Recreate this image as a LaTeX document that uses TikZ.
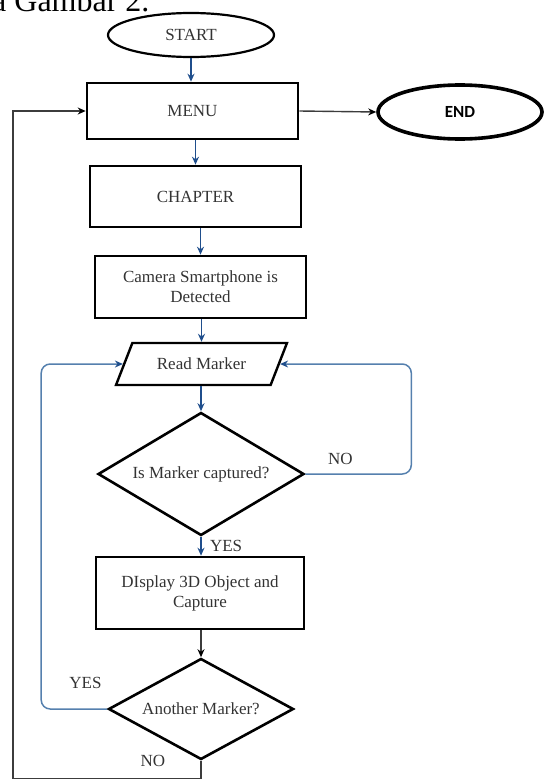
\documentclass[tikz,border=0pt]{standalone}
\usepackage{fontspec}
\setmainfont{Liberation Serif}
\newfontfamily\endfont{Carlito}
\usetikzlibrary{shapes.geometric,arrows.meta}
\definecolor{txt}{HTML}{333333}
\definecolor{arrblue}{HTML}{1F4E8C}
\definecolor{loopblue}{HTML}{5580AE}
\definecolor{kline}{HTML}{3C3C3C}
\begin{document}
\begin{tikzpicture}[x=1pt,y=-1pt,
  every node/.style={font=\fontsize{17}{20}\selectfont, text=txt},
  box/.style={draw=black, line width=2.6pt, rectangle, inner sep=0pt, align=center},
  term/.style={draw=black, line width=2.2pt, ellipse, inner sep=0pt},
  decision/.style={draw=black, line width=2.6pt, diamond, inner sep=0pt},
  barrow/.style={draw=arrblue, line width=1.5pt, -{Stealth[length=8pt,width=7pt]}},
  loopline/.style={draw=loopblue, line width=1.5pt, rounded corners=9pt, -{Stealth[length=8pt,width=7pt,color=arrblue]}},
  karrow/.style={draw=kline, line width=1.4pt, -{Stealth[length=8pt,width=7pt,color=black]}}
]
\useasboundingbox (0,0) rectangle (545,779);

% cropped caption at the top
\node[anchor=base west, inner sep=0pt, font=\fontsize{32}{36}\selectfont, text=black] (title) at (-8,12) {a Gambar 2.};

% nodes
\node[term, minimum width=166pt, minimum height=44pt] (start) at (191,35) {START};
\node[box, minimum width=211pt, minimum height=56pt] (menu) at (192.5,111) {MENU};
\node[ellipse, draw=black, line width=3.6pt, inner sep=0pt, minimum width=164pt, minimum height=54pt,
      font=\endfont\bfseries\fontsize{17}{20}\selectfont, text=black] (end) at (460,112) {END};
\node[box, minimum width=211pt, minimum height=61pt] (chap) at (195.5,196.5) {CHAPTER};
\node[box, minimum width=211pt, minimum height=62pt] (cam) at (200.5,287) {Camera Smartphone is\\Detected};
\node[trapezium, draw=black, line width=2.4pt, inner sep=0pt,
      trapezium left angle=48.6, trapezium right angle=131.4, trapezium stretches=true,
      minimum width=171pt, minimum height=42pt] (rm) at (201.5,364) {Read Marker};
\node[decision, aspect=1.675, minimum width=206pt, minimum height=123pt] (d1) at (201,474) {Is Marker captured?};
\node[box, minimum width=208pt, minimum height=72pt] (disp) at (200,593) {DIsplay 3D Object and\\Capture};
\node[decision, aspect=1.83, minimum width=185pt, minimum height=101pt] (d2) at (201,709) {Another Marker?};

% connectors
\draw[barrow] (start.south) -- (start.south |- menu.north);
\draw[karrow] (menu.east) -- (end.west);
\draw[barrow] (menu.south -| chap) -- (chap.north);
\draw[barrow] (chap.south -| cam) -- (cam.north);
\draw[barrow] (cam.south -| rm.center) -- (rm.north -| rm.center);
\draw[barrow] (rm.south -| d1) -- (d1.north);
\draw[barrow] (d1.south) -- node[midway, anchor=west, xshift=5pt] {YES} (d1.south |- disp.north);
\draw[loopline] (d1.east) -- node[pos=0.33, anchor=center, yshift=15pt] {NO} ++(106,0) |- (rm.right side);
\draw[loopline] (d2.west) -- node[pos=0.33, anchor=center, yshift=26pt] {YES} ++(-66,0) |- (rm.left side);
\draw[karrow] (disp.south -| d2) -- (d2.north);
\draw[karrow] (d2.south) -- node[pos=0, anchor=center, xshift=-48pt] {NO} ++(0,18) -- ++(-188,0) |- (menu.west);
\end{tikzpicture}
\end{document}
